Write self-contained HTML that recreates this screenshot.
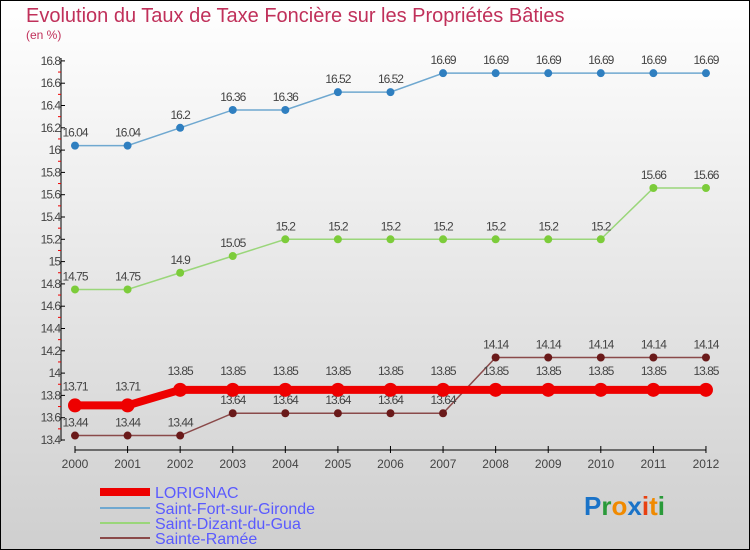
<!DOCTYPE html>
<html><head><meta charset="utf-8"><style>
body{margin:0;width:750px;height:550px;overflow:hidden;font-family:"Liberation Sans",sans-serif}
#c{position:absolute;left:0;top:0;width:748px;height:548px;border:1px solid #000;background:linear-gradient(#ffffff,#cfcfcf)}
</style></head><body>
<div id="c">
<svg width="750" height="550" style="position:absolute;left:-1px;top:-1px" id="svg">
<text x="26" y="22" font-size="20" fill="#c0305a">Evolution du Taux de Taxe Foncière sur les Propriétés Bâties</text>
<text x="26" y="39" font-size="12" fill="#c0305a">(en %)</text>
<g id="axes"></g><g id="series"></g>
<g font-size="16" fill="#5a5aff">
<line x1="100" y1="492" x2="150" y2="492" stroke="#ee0000" stroke-width="8"/>
<text x="155" y="498">LORIGNAC</text>
<line x1="100" y1="508" x2="150" y2="508" stroke="#6fa8d0" stroke-width="2"/>
<text x="155" y="514">Saint-Fort-sur-Gironde</text>
<line x1="100" y1="523" x2="150" y2="523" stroke="#9ad67a" stroke-width="2"/>
<text x="155" y="529">Saint-Dizant-du-Gua</text>
<line x1="100" y1="538" x2="150" y2="538" stroke="#8a4a4a" stroke-width="2"/>
<text x="155" y="544">Sainte-Ramée</text>
</g>
<text x="584" y="515" font-size="26" font-weight="bold"><tspan fill="#1a73c8">P</tspan><tspan fill="#2a9a3a">r</tspan><tspan fill="#f08a00">o</tspan><tspan fill="#1a73c8">x</tspan><tspan fill="#e84010">i</tspan><tspan fill="#f08a00">t</tspan><tspan fill="#2a9a3a">i</tspan></text>
</svg></div>
<script>
const years=[2000,2001,2002,2003,2004,2005,2006,2007,2008,2009,2010,2011,2012];
const lorignac=[13.71,13.71,13.85,13.85,13.85,13.85,13.85,13.85,13.85,13.85,13.85,13.85,13.85];
const saintFort=[16.04,16.04,16.2,16.36,16.36,16.52,16.52,16.69,16.69,16.69,16.69,16.69,16.69];
const saintDizant=[14.75,14.75,14.9,15.05,15.2,15.2,15.2,15.2,15.2,15.2,15.2,15.66,15.66];
const sainteRamee=[13.44,13.44,13.44,13.64,13.64,13.64,13.64,13.64,14.14,14.14,14.14,14.14,14.14];
const yTicks=[13.4,13.6,13.8,14,14.2,14.4,14.6,14.8,15,15.2,15.4,15.6,15.8,16,16.2,16.4,16.6,16.8];
const NS="http://www.w3.org/2000/svg";
const X=i=>75+i*52.58, Y=v=>440-(v-13.4)*111.5;
function mk(t,a,p){const e=document.createElementNS(NS,t);for(const k in a)e.setAttribute(k,a[k]);p.appendChild(e);return e;}
const ax=document.getElementById('axes'), sr=document.getElementById('series');
let e=mk('line',{x1:61,y1:58,x2:61,y2:441,stroke:'#000'},ax);


e=mk('line',{x1:75,y1:450,x2:706,y2:450,stroke:'#000'},ax);


yTicks.forEach((v,i)=>{
 mk('line',{x1:61,y1:Y(v),x2:65,y2:Y(v),stroke:'#000'},ax);
 if(i<yTicks.length-1) mk('line',{x1:58,y1:Y(v+0.1),x2:61,y2:Y(v+0.1),stroke:'#e00'},ax);
 const t=mk('text',{x:60,y:Y(v)+4,'font-size':12,'text-anchor':'end',fill:'#444','letter-spacing':'-1'},ax);
 t.textContent=String(v);
 
 
});
years.forEach((y,i)=>{
 mk('line',{x1:X(i),y1:446,x2:X(i),y2:453,stroke:'#000'},ax);
 const t=mk('text',{x:X(i),y:468,'font-size':12,'text-anchor':'middle',fill:'#444'},ax);
 t.textContent=y;
 
 
});
function series(vals,col,w,r,dot,name,labOff){
 const p=mk('polyline',{points:vals.map((v,i)=>X(i)+','+Y(v)).join(' '),fill:'none',stroke:col,'stroke-width':w},sr);
 
 
 vals.forEach((v,i)=>{
  const c=mk('circle',{cx:X(i),cy:Y(v),r:r,fill:dot},sr);
  
  
  const t=mk('text',{x:X(i),y:Y(v)-labOff,'font-size':12,'text-anchor':'middle',fill:'#444','letter-spacing':'-1'},sr);
  t.textContent=String(v);
  
  
 });
}
series(saintFort,'#6fa8d0',1.5,4,'#2f7fc0','saint-fort',9);
series(saintDizant,'#9ad67a',1.5,4,'#7ccc3a','saint-dizant',9);
series(sainteRamee,'#8a4a4a',1.5,4,'#6a1a1a','sainte-ramee',9);
series(lorignac,'#ee0000',8,7,'#ee0000','lorignac',15);
</script></body></html>
